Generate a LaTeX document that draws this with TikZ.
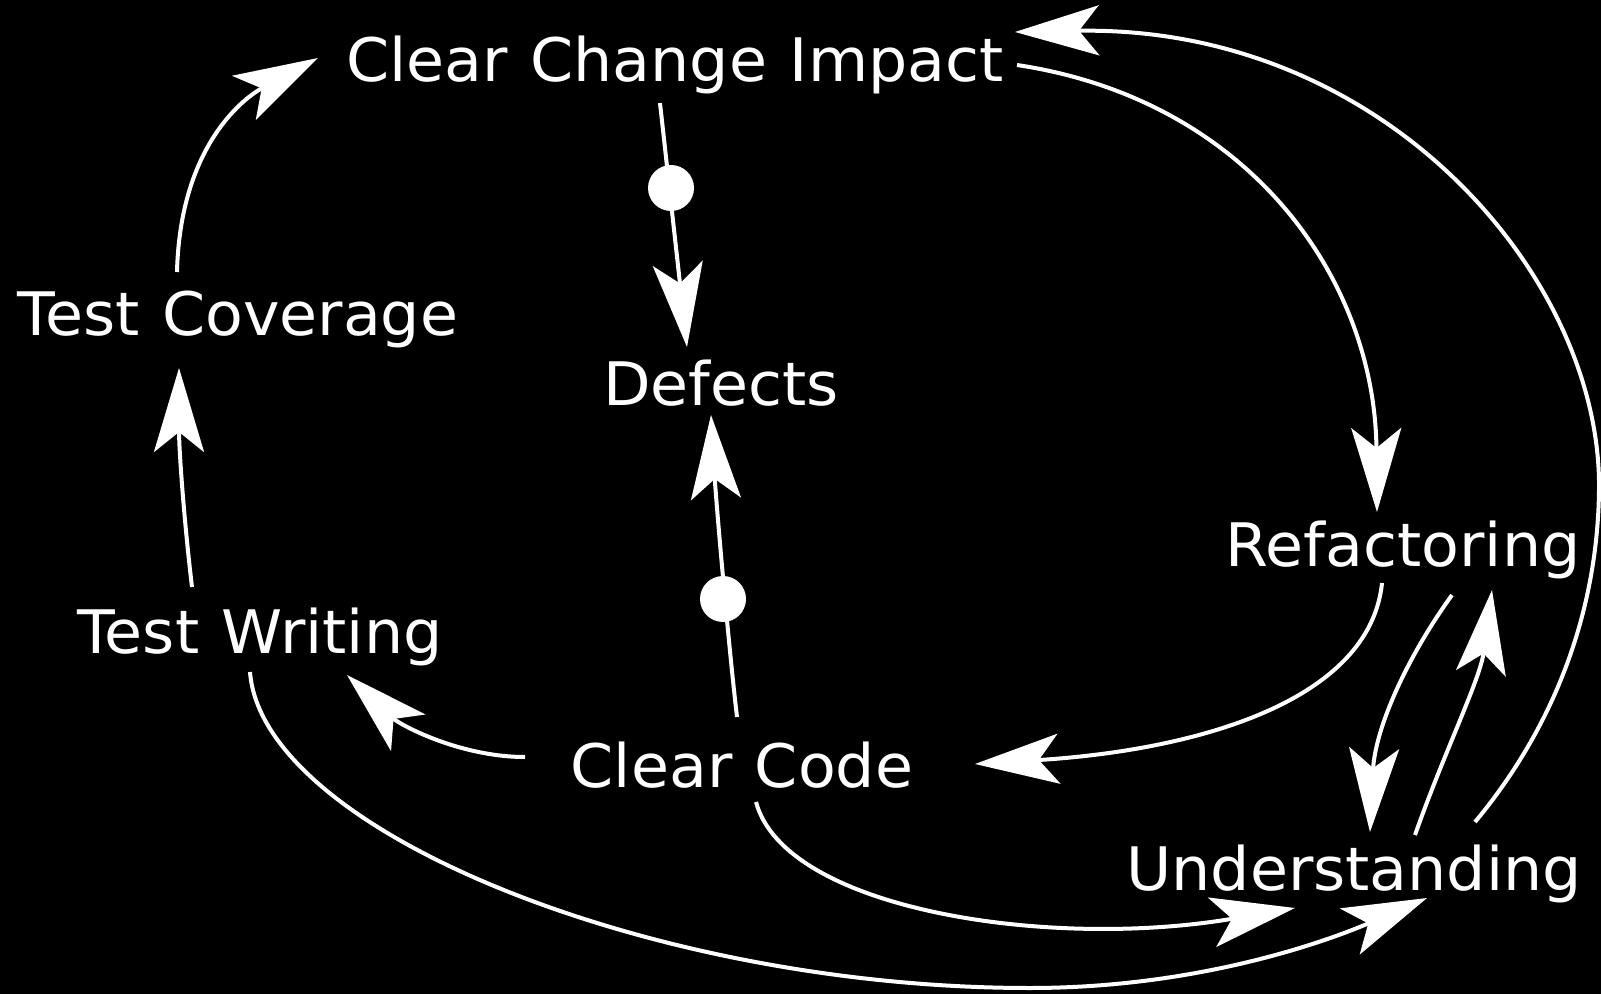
\documentclass[tikz,border=0pt]{standalone}
\usepackage{fontspec}
\setmainfont{DejaVu Sans}[FakeStretch=1.03, WordSpace=1.15]
\usetikzlibrary{arrows.meta}
\begin{document}
\begin{tikzpicture}[x=0.5pt,y=-0.5pt,
  lbl/.style={text=white, font=\fontsize{30pt}{36pt}\selectfont, inner sep=0pt, anchor=base},
  arr/.style={draw=white, line width=2pt, -{Stealth[length=42pt,width=25pt,inset=10pt]}},
  link/.style={draw=white, line width=2pt},
  dotc/.style={fill=white}]
\fill[black] (0,0) rectangle (1601,994);
\useasboundingbox (0,0) rectangle (1601,994);
% labels
\node[lbl] (cci) at (675,82) {Clear Change Impact};
\node[lbl] (tc)  at (238,336) {Test Coverage};
\node[lbl] (def) at (721,406) {Defects};
\node[lbl] (ref) at (1403,567) {Refactoring};
\node[lbl] (tw)  at (260,653) {Test Writing};
\node[lbl] (cc)  at (742,787) {Clear Code};
\node[lbl] (und) at (1354,890) {Understanding};
% connector ends
\coordinate (tcN) at (177,272);  \coordinate (cciW) at (318,58);
\coordinate (twN) at (192,587);  \coordinate (tcS) at (179,368);
\coordinate (cciS) at (660,103); \coordinate (defN) at (687,347);
\coordinate (dotA) at (671,188);
\coordinate (ccN) at (737,717);  \coordinate (defS) at (711,415);
\coordinate (dotB) at (723,599);
\coordinate (ccW) at (525,757);  \coordinate (twSE) at (347,675);
\coordinate (cciE) at (1017,65); \coordinate (refN) at (1377,512);
\coordinate (refS) at (1382,583); \coordinate (ccE) at (975,764);
\coordinate (refSE) at (1452,595); \coordinate (undN) at (1370,832);
\coordinate (undNE) at (1415,835); \coordinate (refSR) at (1492,590);
\coordinate (undR) at (1475,822); \coordinate (cciNE) at (1015,32);
\coordinate (rim) at (1599,480);
\coordinate (ccS) at (756,802);  \coordinate (undW) at (1295,908);
\coordinate (twS) at (250,672);  \coordinate (bot) at (1030,988);
\coordinate (undSW) at (1427,898);
% connectors
\draw[arr] (tcN) .. controls (180,150) and (240,100) .. (cciW);
\draw[arr] (twN) .. controls (184,520) and (179,450) .. (tcS);
\draw[arr] (cciS) -- (defN);
\fill[dotc] (dotA) circle[radius=23];
\draw[arr] (ccN) .. controls (728,640) and (716,500) .. (defS);
\fill[dotc] (dotB) circle[radius=23];
\draw[arr] (ccW) .. controls (460,757) and (400,725) .. (twSE);
\draw[arr] (cciE) .. controls (1250,100) and (1375,280) .. (refN);
\draw[arr] (refS) .. controls (1370,700) and (1200,750) .. (ccE);
\draw[arr] (refSE) .. controls (1405,660) and (1375,730) .. (undN);
\draw[arr] (undNE) .. controls (1445,750) and (1480,680) .. (refSR);
\draw[arr] (undR) .. controls (1560,720) and (1600,600) .. (rim)
   .. controls (1595,270) and (1380,25) .. (cciNE);
\draw[arr] (ccS) .. controls (785,910) and (1050,950) .. (undW);
\draw[arr] (twS) .. controls (262,830) and (650,988) .. (bot)
   .. controls (1200,988) and (1330,940) .. (undSW);
\end{tikzpicture}
\end{document}
